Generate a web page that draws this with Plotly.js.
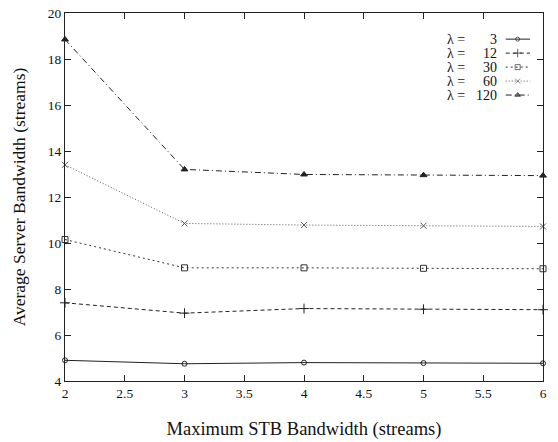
<!DOCTYPE html>
<html><head><meta charset="utf-8">
<script src="https://cdn.plot.ly/plotly-3.0.1.min.js"></script>
<style>html,body{margin:0;padding:0;background:#fff}#c{width:558px;height:442px}</style>
</head><body><div id="c"></div>
<script>
const stbBandwidth = [2, 3, 4, 5, 6];
const lambdaLabels = ['3', '12', '30', '60', '120'];
const lambda3   = [4.90, 4.75, 4.80, 4.78, 4.77];
const lambda12  = [7.40, 6.95, 7.15, 7.12, 7.10];
const lambda30  = [10.15, 8.92, 8.92, 8.90, 8.88];
const lambda60  = [13.40, 10.85, 10.78, 10.75, 10.72];
const lambda120 = [18.85, 13.20, 12.98, 12.95, 12.93];
const xTicks = [2, 2.5, 3, 3.5, 4, 4.5, 5, 5.5, 6];
const yTicks = [4, 6, 8, 10, 12, 14, 16, 18, 20];

const FONT = '"Liberation Serif", "Times New Roman", "DejaVu Serif", serif';
const seriesVals = [lambda3, lambda12, lambda30, lambda60, lambda120];
const styles = [
  {dash: 'solid', symbol: 'circle-open', size: 5, color: '#222'},
  {dash: '4px,3px', symbol: 'cross-thin-open', size: 7, color: '#222'},
  {dash: '2px,3px', symbol: 'square-open', size: 6, color: '#333'},
  {dash: '1px,2px', symbol: 'x-thin-open', size: 6, color: '#555'},
  {dash: '6px,3px,1px,3px', symbol: 'triangle-up', size: 6, color: '#222'}
];

const traces = seriesVals.map((ys, i) => ({
  x: stbBandwidth, y: ys, type: 'scatter', mode: 'lines+markers',
  line: {color: styles[i].color, width: 1, dash: styles[i].dash},
  marker: {symbol: styles[i].symbol, size: styles[i].size, color: styles[i].color, line: {color: styles[i].color, width: 1}},
  showlegend: false, cliponaxis: false, hoverinfo: 'skip'
}));

// custom legend (text left, sample right) on a hidden overlay axis
const legRowY = [0.929, 0.891, 0.853, 0.815, 0.777];
const annotations = [];
lambdaLabels.forEach((lab, i) => {
  traces.push({
    x: [0.922, 0.947, 0.973], y: [legRowY[i], legRowY[i], legRowY[i]],
    xaxis: 'x2', yaxis: 'y2', type: 'scatter', mode: 'lines+markers',
    line: {color: styles[i].color, width: 1, dash: styles[i].dash},
    marker: {symbol: styles[i].symbol, size: [0, styles[i].size - 1, 0], color: styles[i].color, line: {color: styles[i].color, width: 1}},
    showlegend: false, hoverinfo: 'skip'
  });
  annotations.push({xref: 'paper', yref: 'paper', x: 0.797, y: legRowY[i], xanchor: 'left', yanchor: 'middle',
    text: 'λ =', showarrow: false, borderpad: 0, font: {family: FONT, size: 14, color: '#111'}});
  annotations.push({xref: 'paper', yref: 'paper', x: 0.906, y: legRowY[i], xanchor: 'right', yanchor: 'middle',
    text: lab, showarrow: false, borderpad: 0, font: {family: FONT, size: 14, color: '#111'}});
});

const layout = {
  width: 558, height: 442,
  margin: {l: 65, r: 15, t: 13, b: 61},
  paper_bgcolor: '#fff', plot_bgcolor: '#fff',
  font: {family: FONT, size: 13, color: '#111'},
  xaxis: {range: [2, 6], tickvals: xTicks, ticktext: xTicks.map(String), ticks: 'inside', ticklen: 6,
    showgrid: false, zeroline: false, showline: true, linecolor: '#222', linewidth: 1, mirror: 'ticks',
    tickcolor: '#222', tickfont: {family: FONT, size: 13.5},
    title: {text: 'Maximum STB Bandwidth (streams)', font: {family: FONT, size: 18.5}, standoff: 21}},
  yaxis: {range: [4, 20], tickvals: yTicks, ticktext: yTicks.map(String), ticks: 'inside', ticklen: 6,
    showgrid: false, zeroline: false, showline: true, linecolor: '#222', linewidth: 1, mirror: 'ticks',
    tickcolor: '#222', tickfont: {family: FONT, size: 13.5},
    title: {text: 'Average Server Bandwidth (streams)', font: {family: FONT, size: 17.5}, standoff: 17}},
  xaxis2: {overlaying: 'x', range: [0, 1], visible: false, anchor: 'y2'},
  yaxis2: {overlaying: 'y', range: [0, 1], visible: false, anchor: 'x2'},
  annotations: annotations,
  showlegend: false
};
Plotly.newPlot('c', traces, layout, {staticPlot: true});
</script></body></html>
